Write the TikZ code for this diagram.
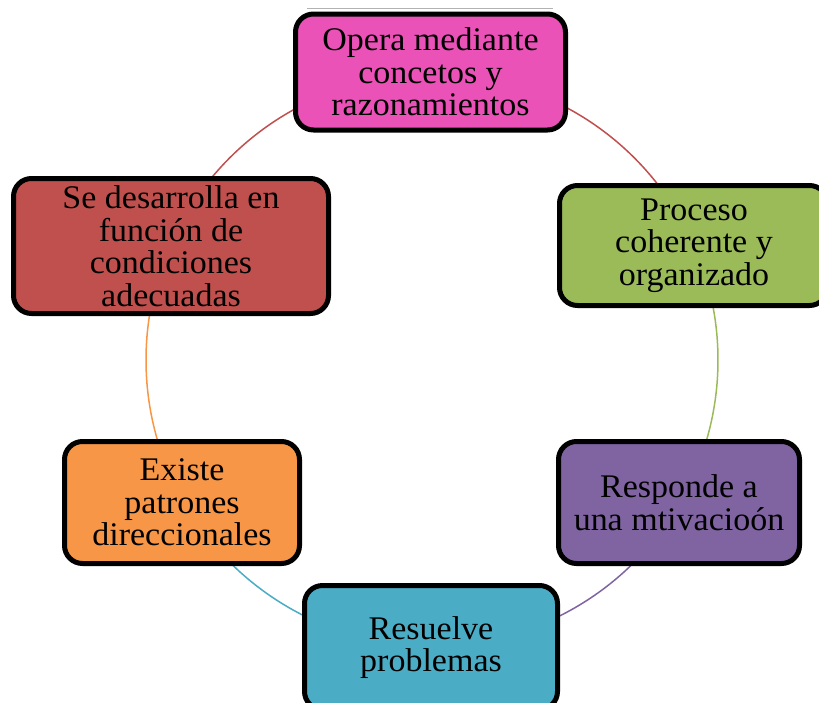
\documentclass[tikz,border=0pt]{standalone}
\usepackage{fontspec}
\setmainfont[FakeStretch=1.03]{Liberation Serif}
\usetikzlibrary{calc}
\definecolor{cMag}{RGB}{234,82,184}
\definecolor{cGreen}{RGB}{155,187,89}
\definecolor{cPurple}{RGB}{128,100,162}
\definecolor{cCyan}{RGB}{75,172,198}
\definecolor{cRed}{RGB}{192,80,77}
\definecolor{cOrange}{RGB}{247,150,70}
\tikzset{
  stepbox/.style={draw=black, line width=5pt, rounded corners=18pt, align=center,
    inner sep=0pt, font=\fontsize{33}{32.5}\selectfont, text=black},
  ring/.style={line width=1.5pt},
}
\begin{document}
\begin{tikzpicture}[x=1pt,y=1pt]
\useasboundingbox (0,0) rectangle (819,-702);
\clip (0,0) rectangle (819,-702);
\coordinate (c) at (432,-360);
\def\R{286}
% ring arcs
\draw[ring, cRed] ($(c)+(90:\R)$) arc[start angle=90, end angle=24, radius=\R];
\draw[ring, cGreen] ($(c)+(24:\R)$) arc[start angle=24, end angle=-30, radius=\R];
\draw[ring, cPurple] ($(c)+(-30:\R)$) arc[start angle=-30, end angle=-90, radius=\R];
\draw[ring, cCyan] ($(c)+(-90:\R)$) arc[start angle=-90, end angle=-150, radius=\R];
\draw[ring, cOrange] ($(c)+(-150:\R)$) arc[start angle=-150, end angle=-204, radius=\R];
\draw[ring, cRed] ($(c)+(156:\R)$) arc[start angle=156, end angle=90, radius=\R];
% faint line above top box
\draw[gray!60, line width=1pt] (307,-8.5) -- (553,-8.5);
% boxes
\node[stepbox, fill=cMag, minimum width=270, minimum height=116] (n1) at (430.5,-72)
  {Opera mediante\\concetos y\\razonamientos};
\node[stepbox, fill=cGreen, minimum width=268, minimum height=120] (n2) at (693.5,-245.5) {};
\node at (694,-245.5) [align=center, font=\fontsize{33}{32.5}\selectfont] (t2)
  {Proceso\\coherente y\\organizado};
\node[stepbox, fill=cPurple, minimum width=241, minimum height=122] (n3) at (679,-502.5)
  {Responde a\\una mtivacioón};
\node[stepbox, fill=cCyan, minimum width=253, minimum height=124] (n4) at (431,-647.5)
  {Resuelve\\problemas};
\node[stepbox, fill=cOrange, minimum width=235, minimum height=122] (n5) at (182,-502.5)
  {Existe\\patrones\\direccionales};
\node[stepbox, fill=cRed, minimum width=315, minimum height=135] (n6) at (171,-246)
  {Se desarrolla en\\función de\\condiciones\\adecuadas};
\end{tikzpicture}
\end{document}
